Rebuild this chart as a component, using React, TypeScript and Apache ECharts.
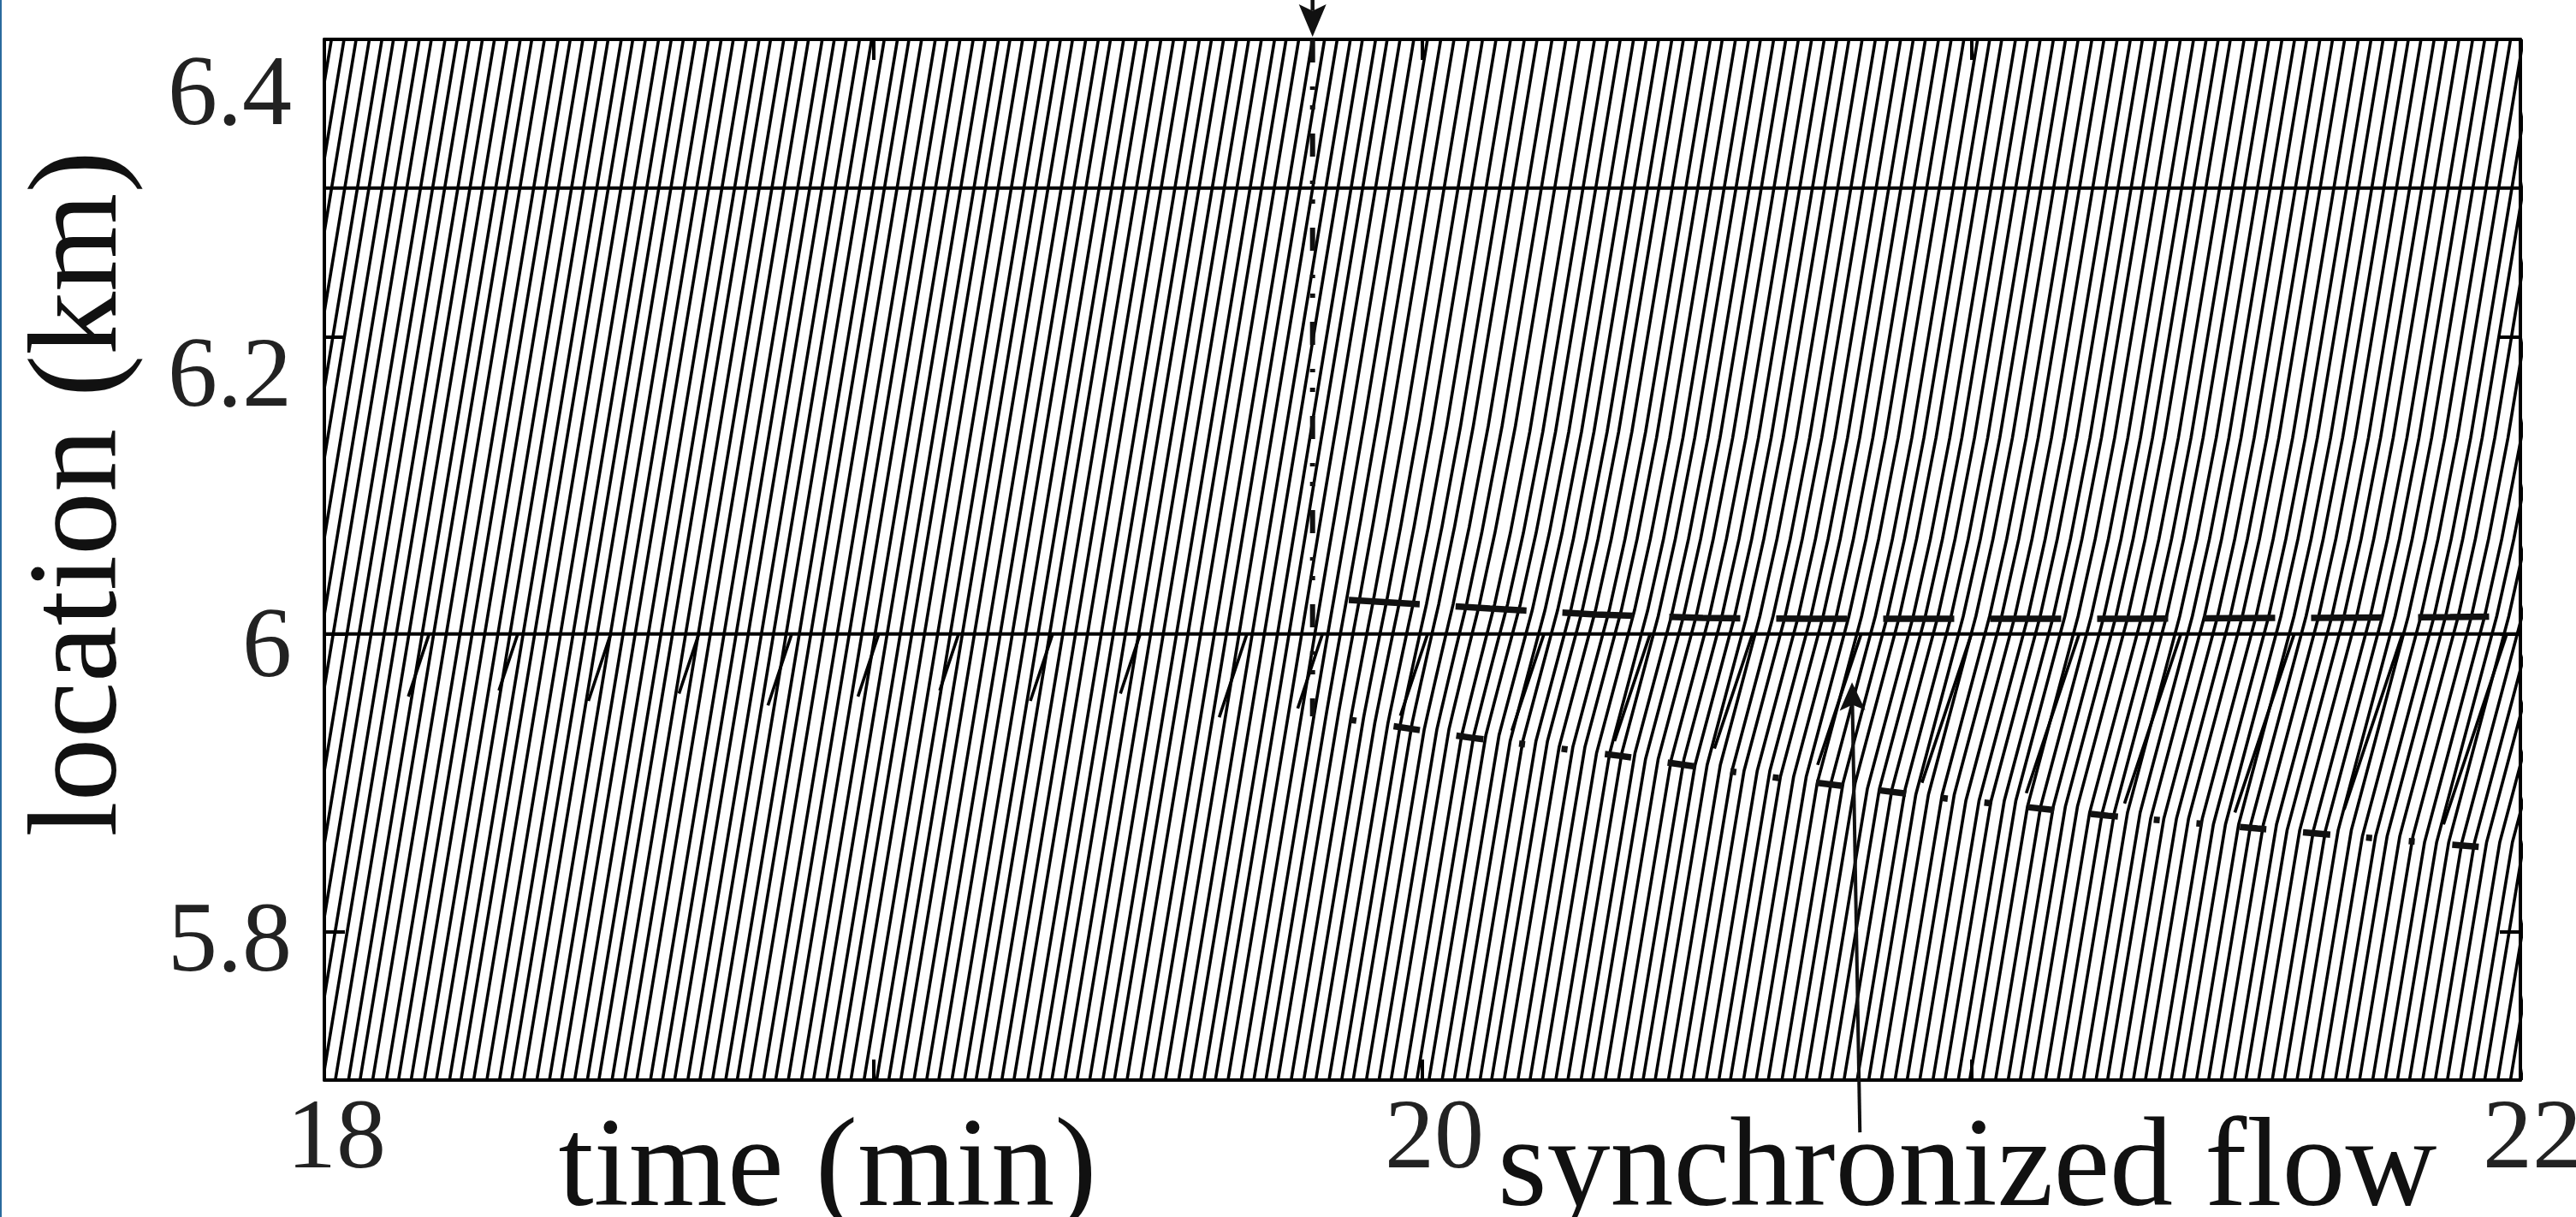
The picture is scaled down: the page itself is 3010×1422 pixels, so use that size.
import React, { useEffect, useRef } from "react";
import * as echarts from "echarts";

// ---------------- data ----------------
const xTickValues = [18, 19, 20, 21, 22];
const xLabelValues = [18, 20, 22];
const yTickValues = [5.8, 6.0, 6.2, 6.4];
// label anchors (the printed labels sit slightly off their ticks)
const yLabelValues = [5.7961, 5.994, 6.176, 6.3655];
const yLabelTexts = ["5.8", "6", "6.2", "6.4"];
const detectorLocations = [6.0, 6.3];

// paces read from the trajectory slopes (min per km)
const freePace = 0.447;
const syncPace = 0.72;
const accelDist = [0.05, 0.12];
const accelPace = [0.6, 0.52];
const syncBuildUp = 0.35; // min after onset until the pattern is fully developed
const rampSlowPace = 0.9;
const rampEndLoc = 6.0;

// times (min) at which the main-road vehicles cross 5.7 km
const entryTimes = [
  17.7, 17.723, 17.745, 17.769, 17.792, 17.813, 17.837, 17.86, 17.882, 17.907,
  17.929, 17.951, 17.975, 17.997, 18.02, 18.044, 18.065, 18.088, 18.113, 18.135,
  18.158, 18.182, 18.204, 18.228, 18.249, 18.272, 18.296, 18.319, 18.341, 18.363,
  18.387, 18.41, 18.432, 18.456, 18.479, 18.5, 18.524, 18.547, 18.569, 18.594,
  18.616, 18.638, 18.662, 18.684, 18.707, 18.731, 18.752, 18.775, 18.8, 18.822,
  18.845, 18.869, 18.891, 18.915, 18.936, 18.959, 18.983, 19.006, 19.028, 19.05,
  19.074, 19.097, 19.119, 19.143, 19.166, 19.187, 19.211, 19.234, 19.256, 19.281,
  19.303, 19.325, 19.349, 19.371, 19.394, 19.418, 19.439, 19.462, 19.487, 19.509,
  19.532, 19.556, 19.578, 19.602, 19.623, 19.646, 19.67, 19.693, 19.715, 19.737,
  19.761, 19.784, 19.806, 19.83, 19.853, 19.874, 19.898, 19.921, 19.943, 19.968,
  19.99, 20.012, 20.036, 20.058, 20.081, 20.105, 20.126, 20.149, 20.174, 20.196,
  20.219, 20.243, 20.265, 20.289, 20.31, 20.333, 20.357, 20.38, 20.402, 20.424,
  20.448, 20.471, 20.493, 20.517, 20.54, 20.561, 20.585, 20.608, 20.63, 20.655,
  20.677, 20.699, 20.723, 20.745, 20.768, 20.792, 20.813, 20.836, 20.861, 20.883,
  20.906, 20.93, 20.952, 20.976, 20.997, 21.02, 21.044, 21.067, 21.089, 21.111,
  21.135, 21.158, 21.18, 21.204, 21.227, 21.248, 21.272, 21.295, 21.317, 21.342,
  21.364, 21.386, 21.41, 21.432, 21.455, 21.479, 21.5, 21.523, 21.548, 21.57,
  21.593, 21.617, 21.639, 21.663, 21.684, 21.707, 21.731, 21.754, 21.776, 21.798,
  21.822, 21.845, 21.867, 21.891, 21.914, 21.935, 21.959, 21.982, 22.004, 22.029,
];

// on-ramp vehicles: where their (merging) trajectories begin
const rampTimes = [
  18.153, 18.318, 18.481, 18.646, 18.808, 18.972, 19.121, 19.286, 19.45, 19.63, 19.773,
  19.96, 20.163, 20.35, 20.532, 20.72, 20.91, 21.1, 21.279, 21.48, 21.679, 21.86,
];
const rampLocs = [
  5.958, 5.962, 5.955, 5.96, 5.952, 5.958, 5.962, 5.955, 5.96, 5.944, 5.95,
  5.945, 5.935, 5.928, 5.923, 5.912, 5.9, 5.893, 5.886, 5.88, 5.882, 5.872,
];

// onset of the pattern (vertical dash-dot line)
const onsetTime = 19.8;
const onsetLoc = 5.9446;
// upstream front of synchronized flow (lower dash-dot line)
const upFrontTimes = [19.869, 20.09, 20.359, 20.648, 20.957, 21.249, 21.521, 21.935];
const upFrontLocs = [5.9423, 5.9302, 5.9181, 5.9032, 5.8893, 5.8778, 5.8692, 5.8565];
// downstream front (upper dashed line)
const downFrontTimes = [19.866, 20.123, 20.316, 20.511, 20.706, 21.291, 21.872, 22.02];
const downFrontLocs = [6.0229, 6.0172, 6.0131, 6.0108, 6.0103, 6.0103, 6.0114, 6.012];

// annotation arrows (data coordinates)
const onsetArrowTail = [19.8, 6.4294];
const onsetArrowTip = [19.8, 6.4017];
const syncArrowTail = [20.797, 5.6648];
const syncArrowTip = [20.7826, 5.9676];

// ---------------- helpers ----------------
const FONT = "'Liberation Serif', 'Times New Roman', serif";

function frontAt(ts: number[], ls: number[], t: number) {
  if (t <= ts[0]) return ls[0];
  if (t >= ts[ts.length - 1]) return ls[ls.length - 1];
  for (let i = 0; i < ts.length - 1; i++) {
    if (t >= ts[i] && t <= ts[i + 1]) {
      const f = (t - ts[i]) / (ts[i + 1] - ts[i]);
      return ls[i] + f * (ls[i + 1] - ls[i]);
    }
  }
  return ls[ls.length - 1];
}

function paceAt(t: number, l: number) {
  if (t < onsetTime) return freePace;
  const grow = Math.min(1, (t - onsetTime) / syncBuildUp);
  const lu = t < upFrontTimes[0] ? onsetLoc : frontAt(upFrontTimes, upFrontLocs, t);
  const ld = frontAt(downFrontTimes, downFrontLocs, t);
  if (l < lu) return freePace;
  if (l < ld) return freePace + (syncPace - freePace) * grow;
  const d = l - ld;
  for (let i = 0; i < accelDist.length; i++)
    if (d < accelDist[i]) return freePace + (accelPace[i] - freePace) * grow;
  return freePace;
}

function trajectory(t0: number, l0: number, ramp: boolean) {
  const pts: number[][] = [[t0, l0]];
  const lEnd = ramp ? rampEndLoc : 6.4;
  let t = t0;
  let l = l0;
  let last: number | null = null;
  const step = 0.004;
  let guard = 0;
  while (l < lEnd - 1e-9 && guard < 1000) {
    guard++;
    let p = paceAt(t, l);
    if (ramp) p = Math.max(p, rampSlowPace);
    if (last !== null && Math.abs(p - last) > 1e-4) pts.push([t, l]);
    last = p;
    const dl = Math.min(step, lEnd - l);
    t += p * dl;
    l += dl;
  }
  pts.push([t, l]);
  return pts;
}

export default function App() {
  const ref = useRef<HTMLDivElement>(null);

  useEffect(() => {
    if (!ref.current) return;
    const chart = echarts.init(ref.current, undefined, { renderer: "svg" });

    const trajData: { coords: number[][] }[] = [];
    entryTimes.forEach((t0) => trajData.push({ coords: trajectory(t0, 5.7, false) }));
    rampTimes.forEach((t0, i) => trajData.push({ coords: trajectory(t0, rampLocs[i], true) }));

    const axisLineStyle = { color: "#000", width: 4 };
    const tickStyle = { color: "#000", width: 4 };

    const option: any = {
      animation: false,
      backgroundColor: "#fff",
      grid: {
        left: 379,
        right: 65,
        top: 46,
        bottom: 160,
        show: false,
        containLabel: false,
        outerBoundsMode: "none",
      },
      xAxis: [
        {
          type: "value",
          min: 18,
          max: 22,
          interval: 1,
          position: "bottom",
          axisLine: { show: true, onZero: false, lineStyle: axisLineStyle },
          axisTick: { show: true, inside: true, length: 24, lineStyle: tickStyle },
          splitLine: { show: false },
          axisLabel: {
            show: true,
            margin: 5,
            padding: [0, 0, 0, 28],
            fontFamily: FONT,
            fontSize: 116,
            color: "#222",
            formatter: (v: number) => (xLabelValues.includes(v) ? String(v) : ""),
          },
          name: "time (min)",
          nameLocation: "middle",
          nameGap: 22,
          nameMoveOverlap: false,
          nameTextStyle: {
            fontFamily: FONT,
            fontSize: 148,
            color: "#111",
            padding: [0, 1390, 0, 0],
          },
        },
        {
          type: "value",
          min: 18,
          max: 22,
          interval: 1,
          position: "top",
          axisLine: { show: true, onZero: false, lineStyle: axisLineStyle },
          axisTick: { show: true, inside: true, length: 24, lineStyle: tickStyle },
          splitLine: { show: false },
          axisLabel: { show: false },
        },
      ],
      yAxis: [
        {
          type: "value",
          min: 5.7,
          max: 6.4,
          interval: 0.1,
          position: "left",
          axisLine: { show: true, onZero: false, lineStyle: axisLineStyle },
          axisTick: {
            show: true,
            inside: true,
            length: 24,
            customValues: yTickValues,
            lineStyle: tickStyle,
          },
          splitLine: { show: false },
          axisLabel: {
            show: true,
            customValues: yLabelValues,
            margin: 38,
            fontFamily: FONT,
            fontSize: 116,
            color: "#222",
            formatter: (v: number) => {
              const i = yLabelValues.findIndex((x) => Math.abs(x - v) < 1e-6);
              return i >= 0 ? yLabelTexts[i] : "";
            },
          },
          name: "location (km)",
          nameLocation: "middle",
          nameGap: 220,
          nameRotate: 90,
          nameMoveOverlap: false,
          nameTextStyle: {
            fontFamily: FONT,
            fontSize: 148,
            color: "#111",
            padding: [0, 0, 0, 154],
          },
        },
        {
          type: "value",
          min: 5.7,
          max: 6.4,
          interval: 0.1,
          position: "right",
          axisLine: { show: true, onZero: false, lineStyle: axisLineStyle },
          axisTick: {
            show: true,
            inside: true,
            length: 24,
            customValues: yTickValues,
            lineStyle: tickStyle,
          },
          splitLine: { show: false },
          axisLabel: { show: false },
        },
      ],
      series: [
        {
          name: "trajectories",
          type: "lines",
          coordinateSystem: "cartesian2d",
          xAxisIndex: 0,
          yAxisIndex: 0,
          polyline: true,
          silent: true,
          clip: true,
          lineStyle: { color: "#000", width: 3.6, opacity: 1, curveness: 0 },
          data: trajData,
          z: 2,
        },
        ...detectorLocations.map((loc) => ({
          name: "detector " + loc,
          type: "line",
          xAxisIndex: 0,
          yAxisIndex: 0,
          symbol: "none",
          silent: true,
          lineStyle: { color: "#000", width: 4 },
          data: [
            [18, loc],
            [22, loc],
          ],
          z: 3,
        })),
        {
          name: "onset",
          type: "line",
          xAxisIndex: 0,
          yAxisIndex: 0,
          symbol: "none",
          silent: true,
          lineStyle: { color: "#111", width: 6, type: [27, 28, 4, 18, 5, 28] },
          data: [
            [onsetTime, 6.4],
            [onsetTime, onsetLoc],
          ],
          z: 4,
        },
        {
          name: "downstream front",
          type: "line",
          xAxisIndex: 0,
          yAxisIndex: 0,
          symbol: "none",
          silent: true,
          clip: false,
          lineStyle: { color: "#111", width: 7.5, type: [83, 42] },
          data: downFrontTimes.map((t, i) => [t, downFrontLocs[i]]),
          z: 4,
        },
        {
          name: "upstream front",
          type: "line",
          xAxisIndex: 0,
          yAxisIndex: 0,
          symbol: "none",
          silent: true,
          lineStyle: { color: "#111", width: 7.5, type: [7, 44, 31, 43, 32, 42, 7, 43] },
          data: upFrontTimes.map((t, i) => [t, upFrontLocs[i]]),
          z: 4,
        },
      ],
    };

    chart.setOption(option);

    const P = (v: number[]) =>
      chart.convertToPixel({ xAxisIndex: 0, yAxisIndex: 0 }, v) as number[];

    const arrow = (tail: number[], tip: number[], len: number, wid: number, lw: number) => {
      const a = P(tail);
      const b = P(tip);
      const dx = b[0] - a[0];
      const dy = b[1] - a[1];
      const L = Math.hypot(dx, dy) || 1;
      const ux = dx / L;
      const uy = dy / L;
      const nx = -uy;
      const ny = ux;
      const bx = b[0] - ux * len;
      const by = b[1] - uy * len;
      const notch = [b[0] - ux * len * 0.8, b[1] - uy * len * 0.8];
      return [
        {
          type: "line",
          silent: true,
          z: 10,
          shape: { x1: a[0], y1: a[1], x2: notch[0], y2: notch[1] },
          style: { stroke: "#111", lineWidth: lw },
        },
        {
          type: "polygon",
          silent: true,
          z: 10,
          shape: {
            points: [
              [b[0], b[1]],
              [bx + (nx * wid) / 2, by + (ny * wid) / 2],
              notch,
              [bx - (nx * wid) / 2, by - (ny * wid) / 2],
            ],
          },
          style: { fill: "#111" },
        },
      ];
    };

    chart.setOption({
      graphic: [
        {
          type: "rect",
          silent: true,
          shape: { x: 0, y: 0, width: 2, height: 1422 },
          style: { fill: "#2a6a9e" },
        },
        ...arrow(onsetArrowTail, onsetArrowTip, 38, 32, 4.5),
        ...arrow(syncArrowTail, syncArrowTip, 33, 30, 4),
        {
          type: "text",
          silent: true,
          x: 1750,
          y: 1358,
          style: {
            text: "synchronized flow",
            fontFamily: FONT,
            fontSize: 148,
            fill: "#111",
            align: "left",
            verticalAlign: "middle",
          },
        },
      ],
    });

    return () => chart.dispose();
  }, []);

  return (
    <div
      ref={ref}
      style={{ position: "fixed", left: 0, top: 0, width: 3010, height: 1422, background: "#fff" }}
    />
  );
}
